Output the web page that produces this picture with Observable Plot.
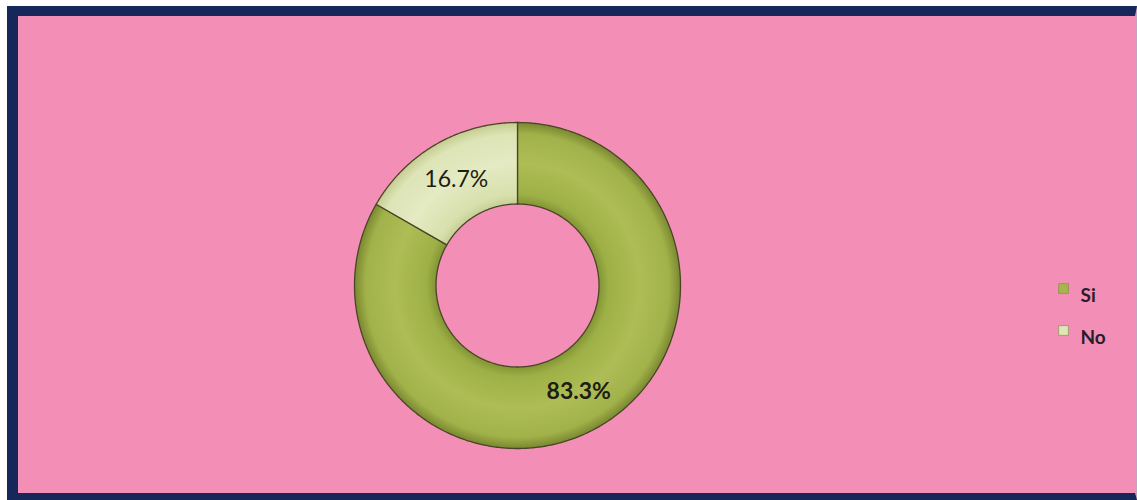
<!DOCTYPE html>
<html>
<head>
<meta charset="utf-8">
<script src="https://cdn.jsdelivr.net/npm/d3@7"></script>
<script src="https://cdn.jsdelivr.net/npm/@observablehq/plot@0.6"></script>
<style>
  html, body { margin: 0; padding: 0; background: white; }
  #wrap { position: relative; width: 1137px; height: 500px; overflow: hidden; background: white; }
  #bg { position: absolute; left: 7px; top: 6px; right: 0; bottom: 0;
        background: #f38fb6; border-left: 11px solid #16275a; border-top: 10px solid #16275a;
        border-bottom: 7px solid #16275a; border-right: 2px solid #c9a0c0; box-sizing: border-box; }
  #chart { position: absolute; left: 0; top: 0; }
</style>
</head>
<body>
<div id="wrap"><div id="bg"></div><div id="chart"></div></div>
<script>
// Data
const categories = ["Si", "No"];
const values = [83.3, 16.7];
const labels = ["83.3%", "16.7%"];
const colors = ["#a6b64c", "#dfe6b8"];
const labelWeights = ["bold", "normal"];

const W = 1137, H = 500;
const cx = 517, cy = 285, R = 163; // pixel layout of the donut
const innerRatio = 0.5;

// Build slice polygons (unit radius) from the data
const total = d3.sum(values);
let acc = 0;
const slices = categories.map((c, i) => {
  const a0 = acc / total * 2 * Math.PI;
  acc += values[i];
  const a1 = acc / total * 2 * Math.PI;
  return {cat: c, a0, a1, value: values[i], label: labels[i], color: colors[i]};
});
function ring(s) {
  const pts = [];
  const n = Math.max(8, Math.ceil((s.a1 - s.a0) / 0.01));
  for (let k = 0; k <= n; k++) {
    const a = s.a0 + (s.a1 - s.a0) * k / n;
    pts.push({cat: s.cat, x: Math.sin(a), y: Math.cos(a)});
  }
  for (let k = n; k >= 0; k--) {
    const a = s.a0 + (s.a1 - s.a0) * k / n;
    pts.push({cat: s.cat, x: innerRatio * Math.sin(a), y: innerRatio * Math.cos(a)});
  }
  pts.push(pts[0]);
  return pts;
}
const labelPts = slices.map(s => {
  const m = (s.a0 + s.a1) / 2, r = (1 + innerRatio) / 2;
  return {cat: s.cat, label: s.label, x: r * Math.sin(m), y: r * Math.cos(m)};
});

const marks = [];
slices.forEach((s, i) => {
  marks.push(Plot.line(ring(s), {x: "x", y: "y", fill: `url(#grad${i})`, stroke: "#4b4526", strokeWidth: 1.3, curve: "linear"}));
});
labelPts.forEach((p, i) => {
  marks.push(Plot.text([p], {x: "x", y: "y", text: "label", fontSize: 23,
    fontFamily: "Lato, 'Open Sans', sans-serif", fill: "#1d1d12", fontWeight: labelWeights[i]}));
});
// legend
categories.forEach((c, i) => {
  marks.push(Plot.dot([c], {frameAnchor: "top-left", dx: 1063, dy: 288 + i * 42, symbol: "square", r: 5.5, fill: colors[i], stroke: "#7d8a3a", strokeWidth: 0.6}));
  marks.push(Plot.text([c], {frameAnchor: "top-left", dx: 1080, dy: 288 + i * 42, text: d => d, textAnchor: "start",
    fontSize: 19, fontWeight: "bold", fontFamily: "Lato, 'Open Sans', sans-serif", fill: "#2a1d2a"}));
});

const chart = Plot.plot({
  width: W, height: H,
  marginTop: 0, marginRight: 0, marginBottom: 0, marginLeft: 0,
  style: {background: "transparent"},
  x: {domain: [-cx / R, (W - cx) / R], axis: null},
  y: {domain: [-(H - cy) / R, cy / R], axis: null},
  marks
});

// gradient definitions for the bevel look
const svg = d3.select(chart);
const defs = svg.insert("defs", ":first-child");
const gradStops = [
  [[0.49, "#7f8f32"], [0.56, "#9db046"], [0.75, "#aebd55"], [0.93, "#a2b24a"], [1, "#7a8830"]],
  [[0.49, "#c3cc92"], [0.56, "#d8e0ad"], [0.75, "#e4eac2"], [0.93, "#dde4b6"], [1, "#c4cc90"]]
];
gradStops.forEach((stops, i) => {
  const g = defs.append("radialGradient").attr("id", `grad${i}`)
    .attr("gradientUnits", "userSpaceOnUse").attr("cx", cx).attr("cy", cy).attr("r", R);
  stops.forEach(([o, c]) => g.append("stop").attr("offset", o).attr("stop-color", c));
});

document.getElementById("chart").appendChild(chart);
</script>
</body>
</html>
